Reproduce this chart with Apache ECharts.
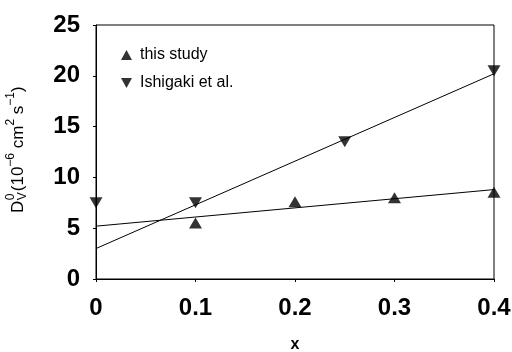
<!DOCTYPE html>
<html>
<head>
<meta charset="utf-8">
<script src="https://cdn.jsdelivr.net/npm/echarts@6/dist/echarts.min.js"></script>
<style>
  html, body { margin: 0; padding: 0; background: #fff; }
  #chart { width: 512px; height: 352px; }
</style>
</head>
<body>
<div id="chart"></div>
<script>
// Diffusion coefficient D_V^0 versus composition x
const seriesNames = ['this study', 'Ishigaki et al.'];

const studyX = [0.1, 0.2, 0.3, 0.4];
const studyY = [5.5, 7.6, 8.0, 8.55];

const ishigakiX = [0, 0.1, 0.25, 0.4];
const ishigakiY = [7.5, 7.5, 13.5, 20.5];

// Linear fit lines (end points at x = 0 and x = 0.4)
const studyFitX = [0, 0.4];
const studyFitY = [5.2, 8.8];
const ishigakiFitX = [0, 0.4];
const ishigakiFitY = [3.0, 20.2];

const xTicks = [0, 0.1, 0.2, 0.3, 0.4];
const yTicks = [0, 5, 10, 15, 20, 25];

const pairs = (xs, ys) => xs.map((x, i) => [x, ys[i]]);

const FONT = '"Liberation Sans", Arial, Helvetica, sans-serif';
const downTri = 'path://M0,0 L10,0 L5,9 Z';
const upTri = 'path://M5,0 L10,9 L0,9 Z';

// Y-axis title built from pieces: D with stacked 0 / V, then units with superscripts
function yTitle() {
  const ctx = document.createElement('canvas').getContext('2d');
  const w = (t, size) => { ctx.font = size + 'px ' + FONT; return ctx.measureText(t).width; };
  const big = 17, small = 12;
  const parts = [];
  let pos = 0;
  const add = (t, size, dy, advance) => {
    parts.push({ type: 'text', x: pos, y: dy,
      style: { text: t, font: size + 'px ' + FONT, fill: '#000', verticalAlign: 'middle', align: 'left' } });
    if (advance !== false) pos += w(t, size);
  };
  add('D', big, 0);
  const stackStart = pos + 0.5;
  pos = stackStart;
  add('0', small, -7, false);
  add('V', small, 5, false);
  pos = stackStart + Math.max(w('0', small), w('V', small)) + 1;
  add('(10', big, 0);
  add('\u22126', small, -7);
  add(' cm', big, 0);
  add('2', small, -7);
  add(' s', big, 0);
  add('\u22121', small, -7);
  add(')', big, 0);
  return { type: 'group', x: 18, y: 213, rotation: Math.PI / 2, silent: true, children: parts };
}

const chart = echarts.init(document.getElementById('chart'), null, { renderer: 'canvas' });

chart.setOption({
  backgroundColor: '#fff',
  animation: false,
  textStyle: { fontFamily: FONT },
  grid: {
    left: 96, right: 18, top: 25, bottom: 73,
    containLabel: false, outerBoundsMode: 'none',
    show: true, borderColor: '#000', borderWidth: 1
  },
  xAxis: {
    type: 'value', min: 0, max: 0.4, interval: 0.1,
    name: 'x', nameLocation: 'middle', nameGap: 58,
    nameTextStyle: { fontSize: 16, fontWeight: 'bold', color: '#000' },
    axisLine: { show: true, lineStyle: { color: '#000', width: 1 } },
    axisTick: { show: true, length: 3, lineStyle: { color: '#000' } },
    splitLine: { show: false },
    axisLabel: {
      fontSize: 24, fontWeight: 'bold', color: '#000', margin: 17,
      formatter: v => { const t = xTicks.find(k => Math.abs(k - v) < 1e-9); return t === undefined ? '' : String(t); }
    }
  },
  yAxis: {
    type: 'value', min: 0, max: 25, interval: 5,
    axisLine: { show: true, lineStyle: { color: '#000', width: 1 } },
    axisTick: { show: true, length: 3, lineStyle: { color: '#000' } },
    splitLine: { show: false },
    axisLabel: {
      fontSize: 24, fontWeight: 'bold', color: '#000', margin: 16,
      formatter: v => { const t = yTicks.find(k => Math.abs(k - v) < 1e-9); return t === undefined ? '' : String(t); }
    }
  },
  legend: {
    orient: 'vertical', left: 116, top: 42,
    itemWidth: 11, itemHeight: 10, itemGap: 12,
    textStyle: { fontSize: 16, color: '#000', padding: [0, 0, 0, 3] },
    data: [
      { name: seriesNames[0], icon: upTri },
      { name: seriesNames[1], icon: downTri }
    ]
  },
  graphic: [yTitle()],
  series: [
    {
      name: 'study fit', type: 'line', data: pairs(studyFitX, studyFitY),
      showSymbol: false, symbol: 'none', lineStyle: { color: '#000', width: 1 }, z: 2, silent: true
    },
    {
      name: 'Ishigaki fit', type: 'line', data: pairs(ishigakiFitX, ishigakiFitY),
      showSymbol: false, symbol: 'none', lineStyle: { color: '#000', width: 1 }, z: 2, silent: true
    },
    {
      name: seriesNames[0], type: 'scatter', data: pairs(studyX, studyY),
      symbol: upTri, symbolSize: [13, 11], itemStyle: { color: '#000' }, z: 3
    },
    {
      name: seriesNames[1], type: 'scatter', data: pairs(ishigakiX, ishigakiY),
      symbol: downTri, symbolSize: [13, 11], itemStyle: { color: '#000' }, z: 3
    }
  ]
});
</script>
</body>
</html>
